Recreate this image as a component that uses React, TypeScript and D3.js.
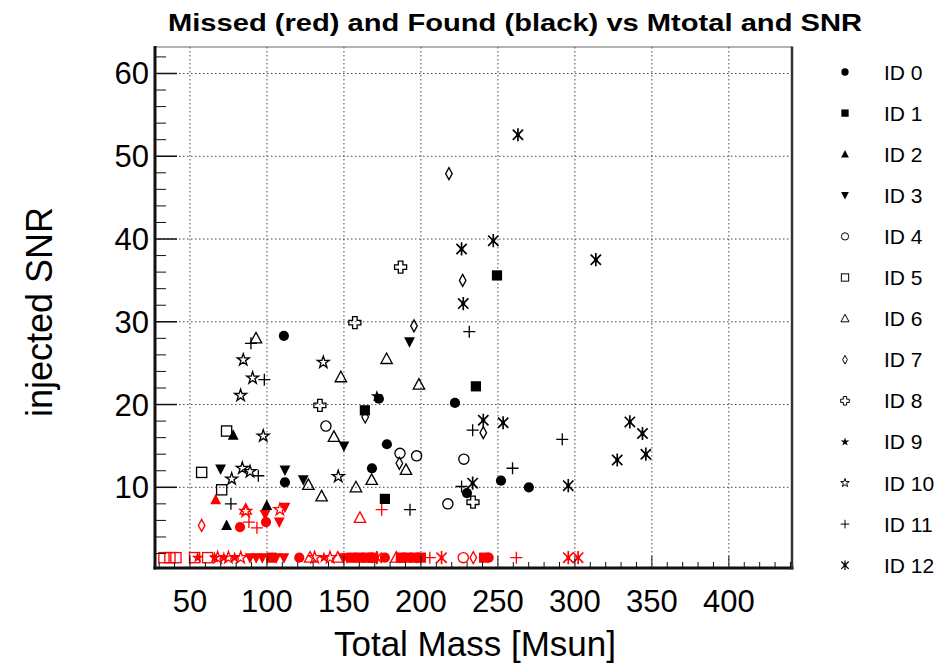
import React, { useEffect } from "react";
import * as d3 from "d3";

// Found (black) injections: total mass, injected SNR and marker id
const foundMass = [
  111.0, 111.7, 172.7, 222.1, 177.9, 168.2, 252.0, 229.9, 270.1,
  249.4, 235.7, 163.6, 176.6,
  78.1, 73.8, 99.9,
  192.6, 69.9, 111.7, 123.6, 150.0,
  138.3, 186.4, 197.2, 227.9, 217.5,
  73.8, 57.6, 70.6,
  92.9, 177.7, 198.7, 148.0, 126.9, 143.5, 157.8, 190.3, 168.0, 135.5,
  218.2, 227.1, 195.5, 163.8, 240.5, 186.0,
  186.8, 157.1, 134.4, 233.8,
  171.4,
  84.6, 90.7, 82.9, 97.6, 136.6, 146.3, 84.0, 89.0, 77.1,
  231.4, 98.3, 89.6, 94.4, 76.6, 233.6, 259.5, 291.8, 192.9, 226.4,
  263.0, 247.0, 313.6, 226.4, 227.5, 240.5, 253.4, 233.6, 335.7, 343.9, 346.1, 327.5, 295.7,
];
const foundSnr = [
  28.3, 10.6, 20.7, 20.2, 15.2, 12.3, 10.8, 9.3, 10.0,
  35.6, 22.2, 19.3, 8.6,
  16.3, 5.4, 7.8,
  27.6, 12.2, 12.1, 10.9, 15.0,
  17.4, 14.1, 13.8, 13.4, 8.0,
  16.8, 11.8, 9.7,
  28.0, 25.5, 22.4, 23.3, 10.3, 16.1, 10.0, 12.1, 10.9, 8.9,
  47.9, 35.0, 29.5, 18.5, 16.6, 12.9,
  36.6, 29.9, 19.9, 8.2,
  21.0,
  25.4, 23.2, 21.1, 16.2, 25.1, 11.3, 12.3, 11.9, 11.0,
  28.8, 23.0, 27.4, 11.4, 8.0, 16.9, 12.3, 15.8, 7.3, 10.1,
  52.6, 39.8, 37.5, 38.8, 32.2, 18.1, 17.8, 10.5, 17.9, 16.5, 14.0, 13.3, 10.2,
];
const foundId = [
  0, 0, 0, 0, 0, 0, 0, 0, 0,
  1, 1, 1, 1,
  2, 2, 2,
  3, 3, 3, 3, 3,
  4, 4, 4, 4, 4,
  5, 5, 5,
  6, 6, 6, 6, 6, 6, 6, 6, 6, 6,
  7, 7, 7, 7, 7, 7,
  8, 8, 8, 8,
  9,
  10, 10, 10, 10, 10, 10, 10, 10, 10,
  11, 11, 11, 11, 11, 11, 11, 11, 11, 11,
  12, 12, 12, 12, 12, 12, 12, 12, 12, 12, 12, 12, 12,
];

// Missed (red) injections
const missedMass = [
  66.7, 57.6, 82.5, 99.4, 88.3, 93.5, 174.5, 86.2, 160.4, 86.2, 108.4, 98.8, 108.0, 111.7,
  33.1, 37.0, 40.9, 53.0, 61.5,
  55.0, 66.0, 72.0, 79.0, 137.0,
  68.0, 75.0, 83.0, 131.0, 141.0,
  89.0, 93.0, 97.0, 106.0, 111.0, 149.5, 152.0, 197.0,
  103.0, 155.0, 160.0, 165.0, 169.0, 187.0, 191.0, 196.0, 200.0, 241.0,
  121.0, 176.6, 244.0,
  128.0, 146.0, 184.0,
  171.4, 213.4, 295.7, 302.1,
  205.8, 262.0,
  227.5, 234.0,
];
const missedSnr = [
  8.5, 5.4, 5.2, 5.8, 5.8, 5.1, 7.3, 7.3, 6.3, 7.1, 7.3, 6.7, 5.8, 7.6,
  1.5, 1.5, 1.5, 1.5, 1.5,
  1.5, 1.5, 1.5, 1.5, 1.5,
  1.5, 1.5, 1.5, 1.5, 1.5,
  1.5, 1.5, 1.5, 1.5, 1.5, 1.5, 1.5, 1.5,
  1.5, 1.5, 1.5, 1.5, 1.5, 1.5, 1.5, 1.5, 1.5, 1.5,
  1.5, 1.5, 1.5,
  1.5, 1.5, 1.5,
  1.5, 1.5, 1.5, 1.5,
  1.5, 1.5,
  1.5, 1.5,
];
const missedId = [
  2, 7, 0, 0, 11, 11, 11, 6, 6, 10, 10, 3, 3, 3,
  5, 5, 5, 5, 5,
  9, 9, 9, 9, 9,
  10, 10, 10, 10, 10,
  3, 3, 3, 3, 3, 3, 3, 3,
  1, 1, 1, 1, 1, 1, 1, 1, 1, 1,
  0, 0, 0,
  6, 6, 6,
  12, 12, 12, 12,
  11, 11,
  4, 7,
];

const legendLabels = ["ID 0", "ID 1", "ID 2", "ID 3", "ID 4", "ID 5", "ID 6", "ID 7", "ID 8", "ID 9", "ID 10", "ID 11", "ID 12"];
const xTicks = [50, 100, 150, 200, 250, 300, 350, 400];
const yTicks = [10, 20, 30, 40, 50, 60];
const xDomain = [27.3, 441];
const yDomain = [0.25, 63.2];

const W = 950;
const H = 668;
const FL = 155, FR = 792, FT = 47, FB = 568;
const FONT = "'Liberation Sans', Arial, Helvetica, sans-serif";

const starPath = (r: number) =>
  d3.symbol().type(d3.symbolStar).size((r * r) / 0.8908130915292852)() as string;

function Marker({ id, cx, cy, r, color }: { id: number; cx: number; cy: number; r: number; color: string }) {
  const sw = Math.max(1, r * 0.22);
  const t = `translate(${cx},${cy})`;
  switch (id) {
    case 0:
      return <circle cx={cx} cy={cy} r={r * 0.85} fill={color} />;
    case 1:
      return <rect x={cx - r * 0.85} y={cy - r * 0.85} width={r * 1.7} height={r * 1.7} fill={color} />;
    case 2:
      return <path transform={t} d={`M0,${-r}L${r * 0.9},${r * 0.75}L${-r * 0.9},${r * 0.75}Z`} fill={color} />;
    case 3:
      return <path transform={t} d={`M0,${r}L${r * 0.9},${-r * 0.75}L${-r * 0.9},${-r * 0.75}Z`} fill={color} />;
    case 4:
      return <circle cx={cx} cy={cy} r={r * 0.85} fill="none" stroke={color} strokeWidth={sw} />;
    case 5:
      return <rect x={cx - r * 0.85} y={cy - r * 0.85} width={r * 1.7} height={r * 1.7} fill="none" stroke={color} strokeWidth={sw} />;
    case 6:
      return <path transform={t} d={`M0,${-r}L${r * 0.95},${r * 0.75}L${-r * 0.95},${r * 0.75}Z`} fill="none" stroke={color} strokeWidth={sw} />;
    case 7:
      return <path transform={t} d={`M0,${-r}L${r * 0.55},0L0,${r}L${-r * 0.55},0Z`} fill="none" stroke={color} strokeWidth={sw} />;
    case 8: {
      const a = r * 0.38;
      const b = r;
      return (
        <path
          transform={t}
          d={`M${-a},${-b}H${a}V${-a}H${b}V${a}H${a}V${b}H${-a}V${a}H${-b}V${-a}H${-a}Z`}
          fill="none"
          stroke={color}
          strokeWidth={sw}
        />
      );
    }
    case 9:
      return <path transform={t} d={starPath(r * 1.05)} fill={color} />;
    case 10:
      return <path transform={t} d={starPath(r * 1.05)} fill="none" stroke={color} strokeWidth={sw} />;
    case 11:
      return (
        <path transform={t} d={`M${-r},0H${r}M0,${-r}V${r}`} stroke={color} strokeWidth={sw} fill="none" />
      );
    case 12: {
      const R = r * 1.1;
      const k = R * 0.78;
      return (
        <g transform={t} stroke={color} strokeWidth={sw * 1.25} fill="none">
          <path d={`M${-k},${-k}L${k},${k}M${-k},${k}L${k},${-k}M0,${-R}V${R}`} />
          <circle r={R * 0.3} fill={color} stroke="none" />
        </g>
      );
    }
    default:
      return null;
  }
}

export default function App() {
  useEffect(() => {
    document.body.style.margin = "0";
  }, []);

  const x = d3.scaleLinear().domain(xDomain).range([FL, FR]);
  const y = d3.scaleLinear().domain(yDomain).range([FB, FT]);

  const xMinor = d3.range(30, 441, 10).filter((v) => v % 50 !== 0);
  const yMinor = d3.range(2, 63, 2).filter((v) => v % 10 !== 0);

  const red = "#ff0000";
  const rPlot = 6;
  const rLegend = 4.3;

  return (
    <svg width={W} height={H} style={{ position: "absolute", left: 0, top: 0, background: "#fff" }} fontFamily={FONT}>
      <rect x={0} y={0} width={W} height={H} fill="#fff" />

      {/* grid */}
      <g stroke="#444" strokeWidth={1} strokeDasharray="1.5 2.5">
        {xTicks.map((v) => (
          <line key={`gx${v}`} x1={x(v)} x2={x(v)} y1={FT} y2={FB} />
        ))}
        {yTicks.map((v) => (
          <line key={`gy${v}`} x1={FL} x2={FR} y1={y(v)} y2={y(v)} />
        ))}
      </g>

      {/* markers: missed first, then found */}
      <g>
        {missedMass.map((m, i) => (
          <Marker key={`m${i}`} id={missedId[i]} cx={x(m)} cy={y(missedSnr[i])} r={rPlot} color={red} />
        ))}
        {foundMass.map((m, i) => (
          <Marker key={`f${i}`} id={foundId[i]} cx={x(m)} cy={y(foundSnr[i])} r={rPlot} color="#000" />
        ))}
      </g>

      {/* frame */}
      <line x1={FL} x2={FR} y1={FT} y2={FT} stroke="#666" strokeWidth={1} />
      <line x1={FL} x2={FL} y1={FT - 1} y2={FB + 1.5} stroke="#111" strokeWidth={3} />
      <line x1={FL - 1.5} x2={FR + 1.5} y1={FB} y2={FB} stroke="#111" strokeWidth={3} />
      <line x1={FR} x2={FR} y1={FT - 0.5} y2={FB + 1.5} stroke="#333" strokeWidth={2.5} />

      {/* axis ticks */}
      <g stroke="#111" strokeWidth={1}>
        {xTicks.map((v) => (
          <line key={`tx${v}`} x1={x(v)} x2={x(v)} y1={FB} y2={FB - 12} />
        ))}
        {xMinor.map((v) => (
          <line key={`mx${v}`} x1={x(v)} x2={x(v)} y1={FB} y2={FB - 6} />
        ))}
        {yTicks.map((v) => (
          <line key={`ty${v}`} x1={FL} x2={FL + 22} y1={y(v)} y2={y(v)} strokeWidth={1.5} />
        ))}
        {yMinor.map((v) => (
          <line key={`my${v}`} x1={FL} x2={FL + 11} y1={y(v)} y2={y(v)} />
        ))}
      </g>

      {/* tick labels */}
      <g fontSize={31} fill="#000">
        {xTicks.map((v) => (
          <text key={`lx${v}`} x={x(v)} y={612} textAnchor="middle">
            {v}
          </text>
        ))}
        {yTicks.map((v) => (
          <text key={`ly${v}`} x={149} y={y(v) + 11} textAnchor="end">
            {v}
          </text>
        ))}
      </g>

      {/* axis titles */}
      <text x={475} y={656} textAnchor="middle" fontSize={35}>
        Total Mass [Msun]
      </text>
      <text transform={`translate(52,${312}) rotate(-90)`} textAnchor="middle" fontSize={36}>
        injected SNR
      </text>

      {/* title */}
      <text
        x={168}
        y={31}
        fontSize={23}
        fontWeight="bold"
        fontFamily="'Liberation Sans Narrow', 'Arial Narrow', 'Liberation Sans', sans-serif"
        textLength={694}
        lengthAdjust="spacingAndGlyphs"
      >
        Missed (red) and Found (black) vs Mtotal and SNR
      </text>

      {/* legend */}
      <g>
        {legendLabels.map((lab, i) => {
          const ly = 72 + i * 41.1;
          return (
            <g key={lab}>
              <Marker id={i} cx={845} cy={ly} r={rLegend} color="#000" />
              <text x={884} y={ly + 7.5} fontSize={21} fill="#000">
                {lab}
              </text>
            </g>
          );
        })}
      </g>
    </svg>
  );
}
